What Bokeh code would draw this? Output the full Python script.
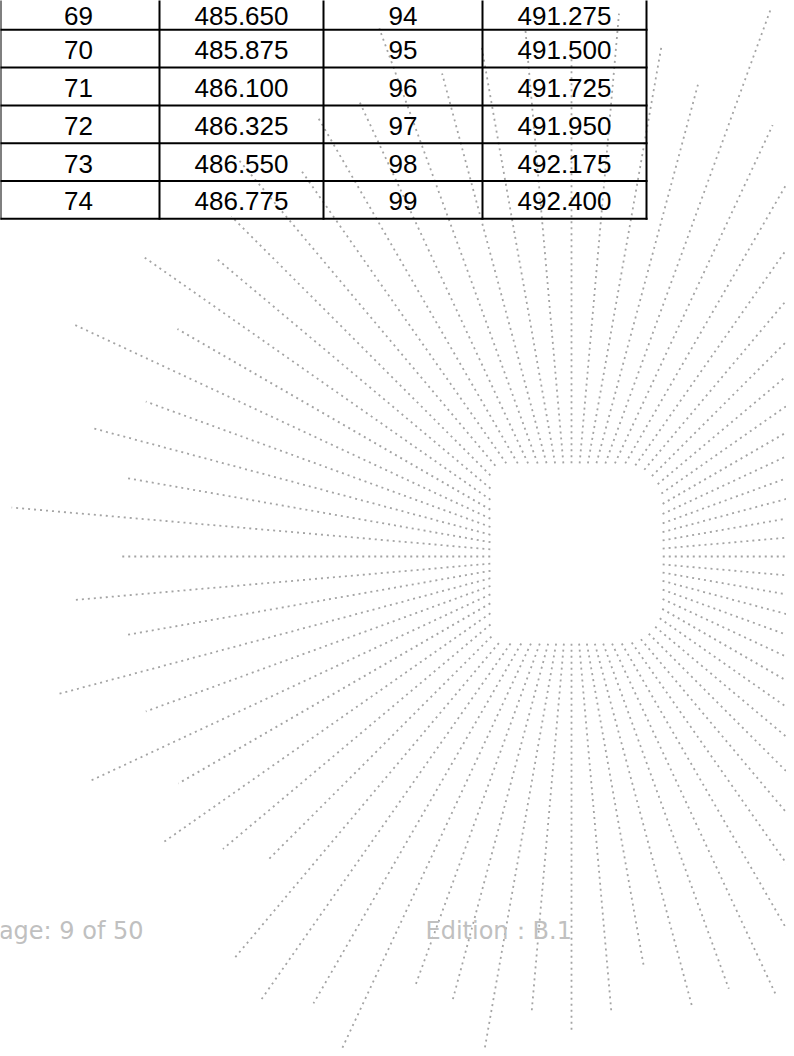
import numpy as np
from bokeh.plotting import figure
from bokeh.models import Range1d
from bokeh.embed import file_html
from bokeh.resources import INLINE
from bokeh.core.properties import value

# ---------------- data ----------------
ch_left = [69, 70, 71, 72, 73, 74]
freq_left = [485.650, 485.875, 486.100, 486.325, 486.550, 486.775]
ch_right = [94, 95, 96, 97, 98, 99]
freq_right = [491.275, 491.500, 491.725, 491.950, 492.175, 492.400]

footer_page = "Page: 9 of 50"
footer_edition = "Edition\uff1aB.1"

# starburst watermark: ray directions (deg) and outer lengths (px from centre)
ray_angles = list(range(0, 360, 5))
ray_lengths = [
    600, 600, 600, 600, 600, 600, 600, 600, 600, 600, 600, 600, 600,   # 0..60
    476, 581, 491, 517, 545, 500, 530, 517, 500, 562, 502, 506,        # 65..120
    470, 520, 481, 465, 521, 455, 550, 453, 498, 452, 562, 453,        # 125..180
    499, 452, 530, 453, 532, 454, 499, 455, 430, 527, 542, 516,        # 185..240
    547, 458, 459, 504, 458, 476, 459, 417, 467, 460, 482,             # 245..295
    600, 600, 600, 600, 600, 600, 600, 600, 600, 600, 600, 600,        # 300..355
]

# ---------------- layout ----------------
FW, FH = 786, 1048
p = figure(width=FW, height=FH, output_backend="svg", toolbar_location=None,
           x_axis_type=None, y_axis_type=None, min_border=0,
           x_range=Range1d(0, FW), y_range=Range1d(FH, 0))
p.outline_line_color = None
p.background_fill_color = "white"
p.border_fill_color = "white"

# starburst
cx, cy = 571.0, 556.0
hole_l, hole_r, hole_t, hole_b = 490.0, 662.0, 463.0, 643.0


def inside_hole(x, y):
    rc = np.where(x < cx, 12.0, 40.0)
    qx = np.clip(x, hole_l + rc, hole_r - rc)
    qy = np.clip(y, hole_t + rc, hole_b - rc)
    inrect = (x >= hole_l) & (x <= hole_r) & (y >= hole_t) & (y <= hole_b)
    return inrect & ((x - qx) ** 2 + (y - qy) ** 2 <= rc ** 2)


xs, ys = [], []
rr = np.arange(0, 250, 0.25)
for ang, L in zip(ray_angles, ray_lengths):
    t = np.deg2rad(ang)
    px = cx + rr * np.cos(t)
    py = cy - rr * np.sin(t)
    out = ~inside_hole(px, py)
    r0 = float(rr[np.argmax(out)])
    xs.append([cx + r0 * np.cos(t), cx + L * np.cos(t)])
    ys.append([cy - r0 * np.sin(t), cy - L * np.sin(t)])

p.multi_line(xs, ys, line_color="#a4a4a4", line_width=1.8, line_dash="2 4")

# table
row_h = 37.8
table_bottom = 218.3
n = len(ch_left)
row_tops = [table_bottom - row_h * (n - i) for i in range(n)]
col_edges = [0, 159, 323, 482, 646]
hy = row_tops + [table_bottom]
p.segment(x0=[col_edges[0] - 1] * len(hy), x1=[col_edges[-1] + 1] * len(hy), y0=hy, y1=hy,
          line_color="black", line_width=2)
p.segment(x0=col_edges, x1=col_edges, y0=[row_tops[0]] * len(col_edges),
          y1=[table_bottom + 1] * len(col_edges), line_color="black", line_width=2)

centers_y = [t + row_h / 2 + 1.5 for t in row_tops]
centers_y[0] = max(centers_y[0], 15.0)   # keep the partly cut top row readable
col_cx = [(col_edges[i] + col_edges[i + 1]) / 2 - (1.5 if i == 0 else 0) for i in range(4)]
columns = [
    [str(v) for v in ch_left],
    ["%.3f" % v for v in freq_left],
    [str(v) for v in ch_right],
    ["%.3f" % v for v in freq_right],
]
for ci, col in enumerate(columns):
    p.text(x=[col_cx[ci]] * n, y=centers_y, text=col,
           text_font=value("Liberation Sans"), text_font_size="26px",
           text_color="black", text_align="center", text_baseline="middle")

# footer
p.text(x=[143], y=[930], text=[footer_page], text_font=value("DejaVu Sans"),
       text_font_size="24px", text_color="#c0c0c0", text_align="right",
       text_baseline="alphabetic")
p.text(x=[425], y=[930], text=[footer_edition], text_font=value("DejaVu Sans"),
       text_font_size="24px", text_color="#c0c0c0", text_align="left",
       text_baseline="alphabetic")

open("out.html", "w").write(file_html(p, INLINE))
